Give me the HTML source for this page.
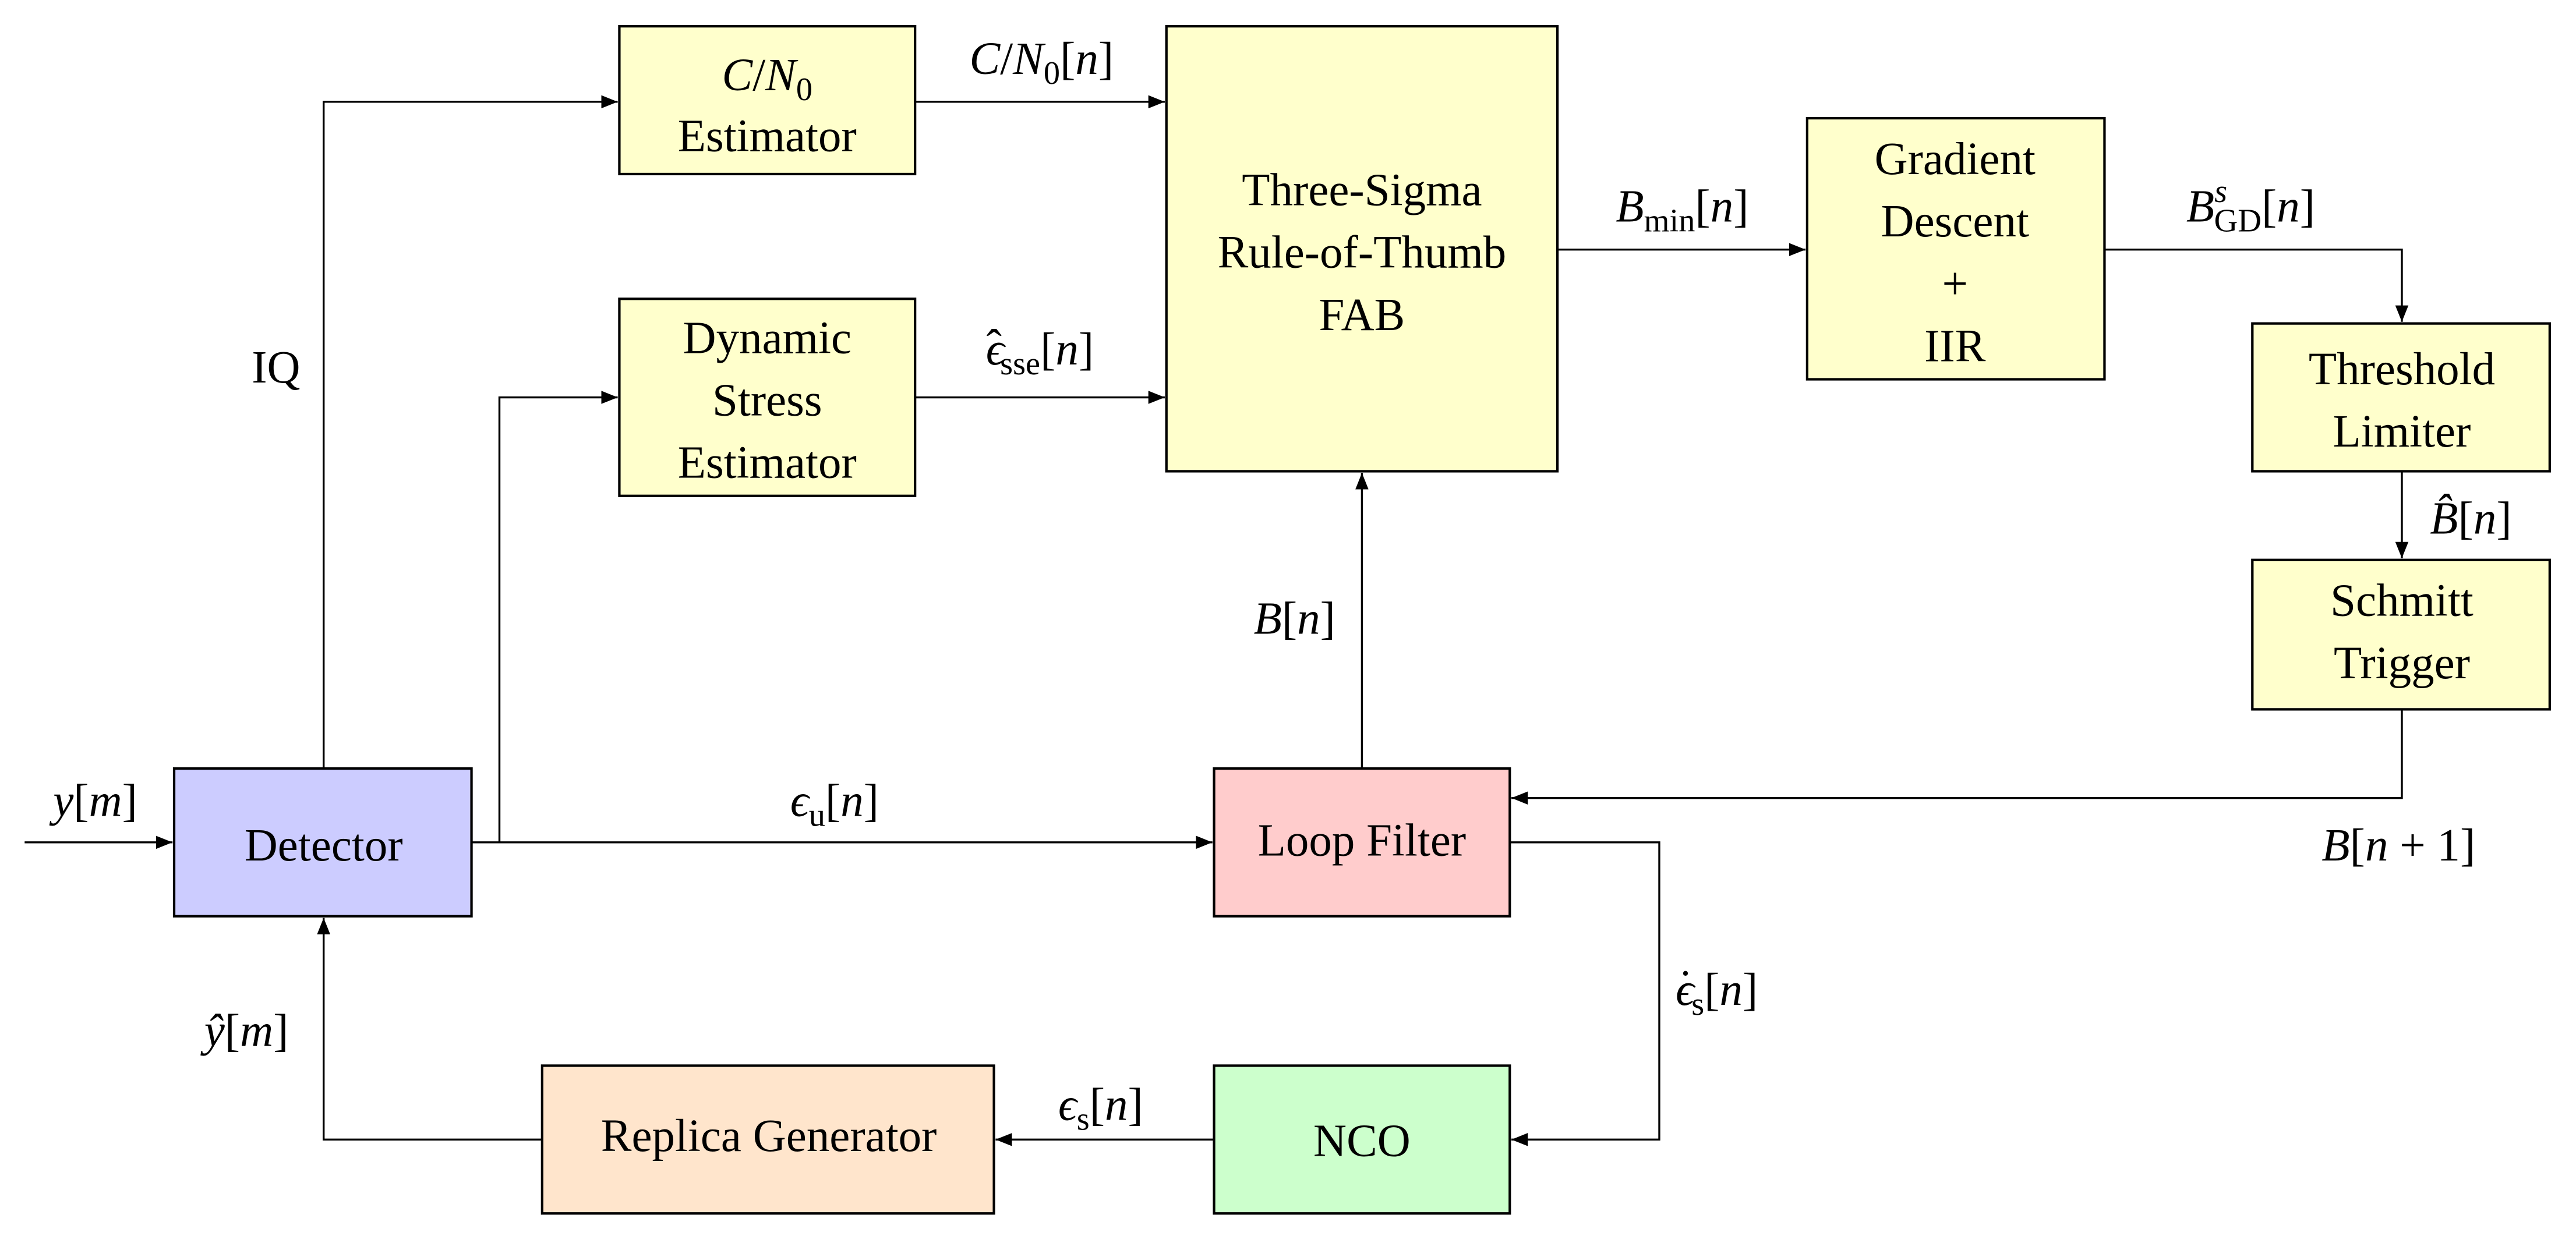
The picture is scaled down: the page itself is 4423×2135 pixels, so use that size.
<!DOCTYPE html>
<html><head><meta charset="utf-8"><style>
html,body{margin:0;padding:0;background:#fff;}
svg{display:block;}
text{font-family:"Liberation Serif",serif;font-size:28px;fill:#000;}
.i{font-style:italic;}
.s{font-size:20px;}
</style></head><body>
<svg width="4423" height="2135" viewBox="0 0 1568 757" preserveAspectRatio="none" xmlns="http://www.w3.org/2000/svg">
<defs>
<marker id="a" markerWidth="10" markerHeight="8" refX="10" refY="4" orient="auto" markerUnits="userSpaceOnUse">
<path d="M0,0 L10,4 L0,8 Z" fill="#000"/>
</marker>
</defs>
<g stroke="#000" stroke-width="1.5">
<rect x="377" y="16" width="180" height="90" fill="#ffffcc"/>
<rect x="377" y="182" width="180" height="120" fill="#ffffcc"/>
<rect x="710" y="16" width="238" height="271" fill="#ffffcc"/>
<rect x="1100" y="72" width="181" height="159" fill="#ffffcc"/>
<rect x="1371" y="197" width="181" height="90" fill="#ffffcc"/>
<rect x="1371" y="341" width="181" height="91" fill="#ffffcc"/>
<rect x="106" y="468" width="181" height="90" fill="#ccccff"/>
<rect x="739" y="468" width="180" height="90" fill="#ffcccc"/>
<rect x="739" y="649" width="180" height="90" fill="#ccffcc"/>
<rect x="330" y="649" width="275" height="90" fill="#ffe5cc"/>
</g>
<g stroke="#000" stroke-width="1.2" fill="none">
<path d="M15,513 H105" marker-end="url(#a)"/>
<path d="M197,468 V62 H376" marker-end="url(#a)"/>
<path d="M287,513 H304 V242 H376" marker-end="url(#a)"/>
<path d="M304,513 H738" marker-end="url(#a)"/>
<path d="M557,62 H709" marker-end="url(#a)"/>
<path d="M557,242 H709" marker-end="url(#a)"/>
<path d="M829,468 V288" marker-end="url(#a)"/>
<path d="M948,152 H1099" marker-end="url(#a)"/>
<path d="M1281,152 H1462 V196" marker-end="url(#a)"/>
<path d="M1462,287 V340" marker-end="url(#a)"/>
<path d="M1462,432 V486 H920" marker-end="url(#a)"/>
<path d="M919,513 H1010 V694 H920" marker-end="url(#a)"/>
<path d="M739,694 H606" marker-end="url(#a)"/>
<path d="M330,694 H197 V559" marker-end="url(#a)"/>
</g>
<g text-anchor="middle">
<text x="467" y="55"><tspan class="i">C</tspan>/<tspan class="i">N</tspan><tspan class="s" dy="6">0</tspan></text>
<text x="467" y="92">Estimator</text>
<text x="467" y="215">Dynamic</text>
<text x="467" y="253">Stress</text>
<text x="467" y="291">Estimator</text>
<text x="829" y="125">Three-Sigma</text>
<text x="829" y="163">Rule-of-Thumb</text>
<text x="829" y="201">FAB</text>
<text x="1190" y="106">Gradient</text>
<text x="1190" y="144">Descent</text>
<text x="1190" y="182">+</text>
<text x="1190" y="220">IIR</text>
<text x="1462" y="234">Threshold</text>
<text x="1462" y="272">Limiter</text>
<text x="1462" y="375">Schmitt</text>
<text x="1462" y="413">Trigger</text>
<text x="197" y="524">Detector</text>
<text x="829" y="521">Loop Filter</text>
<text x="829" y="704">NCO</text>
<text x="468" y="701">Replica Generator</text>

<text x="634" y="45"><tspan class="i">C</tspan>/<tspan class="i">N</tspan><tspan class="s" dy="6">0</tspan><tspan dy="-6">[</tspan><tspan class="i">n</tspan>]</text>
<text x="633" y="222"><tspan class="i">ϵ</tspan><tspan dx="-11" dy="-2">ˆ</tspan><tspan class="s" dx="-1" dy="8">sse</tspan><tspan dy="-6">[</tspan><tspan class="i">n</tspan>]</text>
<text x="1024" y="135"><tspan class="i">B</tspan><tspan class="s" dy="6">min</tspan><tspan dy="-6">[</tspan><tspan class="i">n</tspan>]</text>
<text x="1370" y="135"><tspan class="i">B</tspan><tspan class="s i" dy="-12">s</tspan><tspan class="s" dx="-8" dy="18">GD</tspan><tspan dy="-6">[</tspan><tspan class="i">n</tspan>]</text>
<text x="1504" y="325"><tspan class="i">B̂</tspan>[<tspan class="i">n</tspan>]</text>
<text x="168" y="233">IQ</text>
<text x="788" y="386"><tspan class="i">B</tspan>[<tspan class="i">n</tspan>]</text>
<text x="58" y="497"><tspan class="i">y</tspan>[<tspan class="i">m</tspan>]</text>
<text x="508" y="497"><tspan class="i">ϵ</tspan><tspan class="s" dy="6">u</tspan><tspan dy="-6">[</tspan><tspan class="i">n</tspan>]</text>
<text x="1460" y="524"><tspan class="i">B</tspan>[<tspan class="i">n</tspan> + 1]</text>
<text x="1045" y="612"><tspan class="i">ϵ</tspan><tspan dx="-10" dy="-2">˙</tspan><tspan class="s" dx="-1" dy="8">s</tspan><tspan dy="-6">[</tspan><tspan class="i">n</tspan>]</text>
<text x="150" y="637"><tspan class="i">ŷ</tspan>[<tspan class="i">m</tspan>]</text>
<text x="670" y="682"><tspan class="i">ϵ</tspan><tspan class="s" dy="6">s</tspan><tspan dy="-6">[</tspan><tspan class="i">n</tspan>]</text>
</g>
</svg>
</body></html>
